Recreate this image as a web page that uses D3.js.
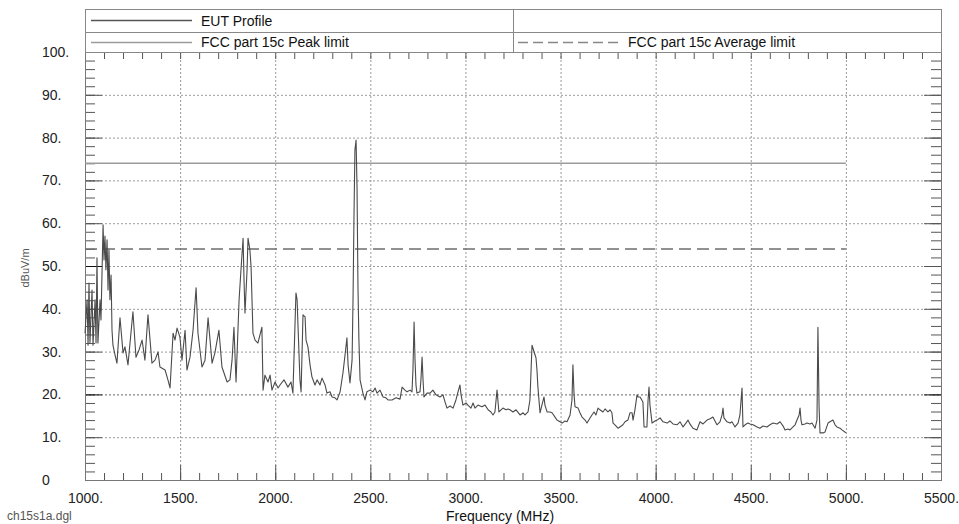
<!DOCTYPE html>
<html><head><meta charset="utf-8">
<script src="https://cdn.jsdelivr.net/npm/d3@7"></script>
<style>
html,body{margin:0;padding:0;background:#fff;}
svg{display:block;font-family:"Liberation Sans",Arial,sans-serif;}
</style></head>
<body>
<svg id="chart" width="959" height="524"></svg>
<script>
// ---- data ----
const freqMHz = [1000,1011,1016,1021,1026,1037,1042,1053,1058,1063,1068,1079,1084,1095,1100,1105,1110,1116,1121,1126,1131,1137,1142,1147,1158,1168,1184,1200,1210,1226,1252,1268,1284,1300,1315,1331,1352,1368,1384,1394,1421,1436,1447,1463,1473,1484,1499,1510,1526,1536,1552,1568,1584,1594,1615,1631,1647,1668,1683,1704,1720,1747,1762,1773,1783,1794,1810,1820,1831,1836,1841,1852,1857,1867,1873,1883,1894,1909,1930,1936,1946,1962,1973,1983,1999,2015,2025,2046,2067,2083,2093,2109,2115,2120,2130,2136,2146,2157,2162,2172,2183,2193,2209,2220,2235,2246,2262,2272,2288,2299,2314,2325,2341,2356,2367,2377,2383,2393,2404,2409,2414,2419,2425,2430,2435,2440,2446,2461,2472,2482,2498,2514,2525,2535,2551,2567,2582,2593,2614,2635,2656,2667,2682,2693,2709,2719,2724,2730,2735,2740,2745,2761,2766,2772,2777,2782,2798,2814,2829,2845,2866,2882,2893,2903,2919,2935,2950,2961,2971,2977,2987,3003,3013,3029,3040,3050,3066,3077,3087,3103,3119,3134,3145,3155,3166,3176,3187,3197,3213,3224,3234,3250,3266,3287,3303,3313,3329,3339,3345,3350,3361,3371,3376,3381,3392,3402,3413,3418,3429,3444,3455,3471,3481,3497,3508,3523,3534,3550,3560,3565,3571,3576,3592,3602,3613,3629,3639,3655,3665,3676,3686,3697,3707,3723,3734,3749,3760,3770,3776,3786,3802,3812,3828,3839,3854,3865,3876,3881,3891,3902,3907,3918,3933,3939,3954,3960,3965,3970,3981,3996,4007,4023,4039,4060,4075,4091,4112,4128,4144,4159,4170,4180,4196,4217,4233,4249,4270,4286,4301,4322,4338,4349,4354,4359,4375,4391,4401,4417,4433,4443,4449,4454,4459,4470,4485,4496,4512,4533,4548,4564,4585,4601,4617,4638,4654,4670,4680,4696,4706,4722,4733,4743,4754,4759,4764,4769,4785,4796,4811,4822,4838,4848,4853,4859,4864,4880,4890,4906,4916,4932,4943,4953,4969,4979,4995,5000];
const levelDbuV = [34.3,42.1,31.5,46.0,32.0,44.4,31.5,42.1,32.0,51.9,32.0,42.1,37.4,59.6,51.4,57.0,49.1,56.1,44.4,53.7,42.1,47.9,35.0,31.5,29.2,27.3,37.9,29.7,31.1,26.9,39.3,28.7,30.4,32.7,28.0,38.6,27.3,28.0,29.9,26.4,25.7,23.4,21.5,34.3,32.7,35.5,33.4,28.0,35.0,25.7,28.7,35.0,44.9,34.3,26.4,28.0,37.9,27.3,29.7,35.0,26.4,22.9,23.4,28.0,35.7,22.9,42.1,49.1,56.5,46.7,39.0,49.1,56.5,53.7,49.8,34.3,32.7,32.0,35.7,21.0,24.5,22.9,24.5,21.0,22.9,21.5,22.2,23.4,21.7,22.9,20.3,43.7,42.1,35.7,23.4,20.6,38.6,38.1,32.7,31.1,26.9,24.1,22.2,23.4,22.2,23.8,22.2,20.3,20.6,19.4,19.2,18.7,20.6,25.0,29.2,33.2,26.9,22.7,28.0,42.1,61.4,77.1,79.4,68.5,45.1,32.7,23.4,20.3,18.7,20.6,21.0,20.6,21.5,20.3,21.0,19.4,19.2,18.7,18.7,19.2,18.9,21.7,21.0,20.6,21.0,20.6,25.7,36.9,28.0,22.2,20.3,20.6,23.4,28.7,23.4,19.4,20.3,20.3,21.0,19.9,19.4,19.9,18.2,16.8,17.3,16.8,18.7,20.6,22.2,19.9,17.5,18.0,17.5,16.8,18.0,16.8,17.5,17.3,17.1,17.5,16.4,15.9,15.2,15.9,21.0,15.9,16.4,16.8,16.4,16.6,16.4,15.9,16.4,15.2,15.7,15.2,15.9,18.7,25.7,31.5,29.9,28.5,25.7,21.7,15.7,17.5,19.4,17.5,15.9,15.9,15.7,14.7,14.0,13.6,13.3,13.8,13.6,15.2,18.7,26.9,19.9,17.1,16.8,15.7,14.7,14.0,13.3,14.5,15.2,15.9,15.2,16.8,16.4,15.9,16.6,15.9,16.4,15.7,13.3,12.9,12.1,12.4,12.9,13.6,14.0,15.7,15.7,14.0,16.4,19.9,19.4,19.4,18.2,12.4,12.4,18.7,21.7,17.5,13.3,13.8,14.0,14.5,13.6,13.3,13.8,13.1,12.9,13.6,12.4,13.3,14.0,13.1,12.1,11.7,13.6,13.1,14.0,14.3,14.7,12.9,13.6,15.2,16.8,14.5,13.6,13.3,13.6,12.4,13.3,15.2,18.7,21.5,12.4,12.9,13.3,13.1,12.9,12.4,12.1,12.6,12.4,12.9,13.3,13.1,13.6,12.6,11.7,11.9,11.7,12.4,12.9,14.0,15.2,16.8,14.0,12.9,13.1,13.3,13.1,13.3,12.1,14.0,35.7,17.1,11.0,11.0,11.2,13.3,13.6,14.0,12.9,12.4,12.1,11.7,11.2,11.0];
const peakLimitFreq = [1000, 5000];
const peakLimitDb = [73.98, 73.98];
const avgLimitFreq = [1000, 5000];
const avgLimitDb = [53.98, 53.98];
const xTickValues = [1000,1500,2000,2500,3000,3500,4000,4500,5000,5500];
const yTickValues = [0,10,20,30,40,50,60,70,80,90,100];
const legendLabels = ["EUT Profile","FCC part 15c Peak limit","FCC part 15c Average limit"];

// ---- layout ----
const L = 85, R = 941, T = 52, B = 480;
const svg = d3.select("#chart");
const x = d3.scaleLinear().domain([1000,5500]).range([L,R]);
const y = d3.scaleLinear().domain([0,100]).range([B,T]);

// gridlines
const grid = svg.append("g");
grid.selectAll("line.gy").data(yTickValues.filter(v=>v>0&&v<100)).enter().append("line")
  .attr("x1",L).attr("x2",R).attr("y1",d=>y(d)+0.5).attr("y2",d=>y(d)+0.5)
  .attr("stroke",d=>d===20?"#666":"#9a9a9a").attr("stroke-width",1).attr("stroke-dasharray","2,2");
grid.selectAll("line.gx").data(xTickValues.filter(v=>v>1000&&v<5500)).enter().append("line")
  .attr("y1",T).attr("y2",B).attr("x1",d=>x(d)+0.5).attr("x2",d=>x(d)+0.5)
  .attr("stroke","#9a9a9a").attr("stroke-width",1).attr("stroke-dasharray","2,2");

// axes with inward ticks
const minorX = d3.range(1000,5501,100);
const minorY = d3.range(0,101,2);
const tickCol = "#555";
const axB = svg.append("g").attr("transform",`translate(0,${B})`)
  .call(d3.axisBottom(x).tickValues(minorX).tickSize(-7).tickFormat(""));
const axB2 = svg.append("g").attr("transform",`translate(0,${B})`)
  .call(d3.axisBottom(x).tickValues(xTickValues).tickSize(-15).tickPadding(13).tickFormat(d=>d+"."));
const axT = svg.append("g").attr("transform",`translate(0,${T})`)
  .call(d3.axisTop(x).tickValues(minorX).tickSize(-7).tickFormat(""));
const axL = svg.append("g").attr("transform",`translate(${L},0)`)
  .call(d3.axisLeft(y).tickValues(minorY).tickSize(-10).tickFormat(""));
const axL2 = svg.append("g").attr("transform",`translate(${L},0)`)
  .call(d3.axisLeft(y).tickValues(yTickValues).tickSize(-17).tickFormat(""));
const axR = svg.append("g").attr("transform",`translate(${R},0)`)
  .call(d3.axisRight(y).tickValues(minorY).tickSize(-10).tickFormat(""));
const axR2 = svg.append("g").attr("transform",`translate(${R},0)`)
  .call(d3.axisRight(y).tickValues(yTickValues).tickSize(-17).tickFormat(""));
[axB,axB2,axT,axL,axL2,axR,axR2].forEach(a=>{
  a.select(".domain").remove();
  a.selectAll(".tick line").attr("stroke",tickCol);
});
axB2.selectAll(".tick text").attr("font-size","14px").attr("fill","#222")
  .attr("font-family","'Liberation Sans',Arial,sans-serif");
axL2.selectAll(".tick line").filter(d=>d===20||d===50).attr("stroke","#111");
axR2.selectAll(".tick line").filter(d=>d===20).attr("stroke","#111");

// y tick labels left-aligned
svg.append("g").selectAll("text").data(yTickValues).enter().append("text")
  .attr("x",42).attr("y",d=>y(d)).attr("dy","0.35em")
  .attr("font-size","14px").attr("fill","#222")
  .text(d=>d===0?"0":d+".");

// frame
svg.append("rect").attr("x",L+0.5).attr("y",T+0.5).attr("width",R-L).attr("height",B-T)
  .attr("fill","none").attr("stroke","#777").attr("stroke-width",1);

// limit lines
const line = d3.line().x(d=>x(d[0])).y(d=>y(d[1]));
svg.append("path").datum(peakLimitFreq.map((f,i)=>[f,peakLimitDb[i]]))
  .attr("d",line).attr("fill","none").attr("stroke","#9c9c9c").attr("stroke-width",1.5);
svg.append("path").datum(avgLimitFreq.map((f,i)=>[f,avgLimitDb[i]]))
  .attr("d",line).attr("fill","none").attr("stroke","#6e6e6e").attr("stroke-width",1.5)
  .attr("stroke-dasharray","12,6");

// EUT trace
svg.append("path").datum(freqMHz.map((f,i)=>[f,levelDbuV[i]]))
  .attr("d",line).attr("fill","none").attr("stroke","#4a4a4a").attr("stroke-width",1.1)
  .attr("stroke-linejoin","round");

// legend
const lg = svg.append("g");
lg.append("rect").attr("x",L+0.5).attr("y",9.5).attr("width",R-L).attr("height",T-9)
  .attr("fill","none").attr("stroke","#888");
lg.append("line").attr("x1",L).attr("x2",R).attr("y1",32.5).attr("y2",32.5).attr("stroke","#888");
lg.append("line").attr("x1",513.5).attr("x2",513.5).attr("y1",9).attr("y2",T).attr("stroke","#888");
lg.append("line").attr("x1",91).attr("x2",192).attr("y1",20.5).attr("y2",20.5).attr("stroke","#555").attr("stroke-width",1.3);
lg.append("line").attr("x1",91).attr("x2",192).attr("y1",42.5).attr("y2",42.5).attr("stroke","#9c9c9c").attr("stroke-width",1.5);
lg.append("line").attr("x1",518).attr("x2",618).attr("y1",42.5).attr("y2",42.5).attr("stroke","#888").attr("stroke-width",1.5).attr("stroke-dasharray","10,5");
lg.append("text").attr("x",201).attr("y",21).attr("dy","0.35em").attr("font-size","14px").attr("fill","#111").text(legendLabels[0]);
lg.append("text").attr("x",201).attr("y",42).attr("dy","0.35em").attr("font-size","14px").attr("fill","#111").text(legendLabels[1]);
lg.append("text").attr("x",628).attr("y",42).attr("dy","0.35em").attr("font-size","14px").attr("fill","#111").text(legendLabels[2]);

// axis titles
svg.append("text").attr("x",500).attr("y",516).attr("dy","0.35em").attr("text-anchor","middle")
  .attr("font-size","14px").attr("fill","#111").text("Frequency (MHz)");
svg.append("text").attr("transform","translate(25,268) rotate(-90)").attr("text-anchor","middle")
  .attr("dy","0.35em").attr("font-size","11px").attr("fill","#555").text("dBuV/m");
svg.append("text").attr("x",7).attr("y",516).attr("dy","0.35em")
  .attr("font-size","12px").attr("fill","#555").text("ch15s1a.dgl");
</script>
</body></html>
